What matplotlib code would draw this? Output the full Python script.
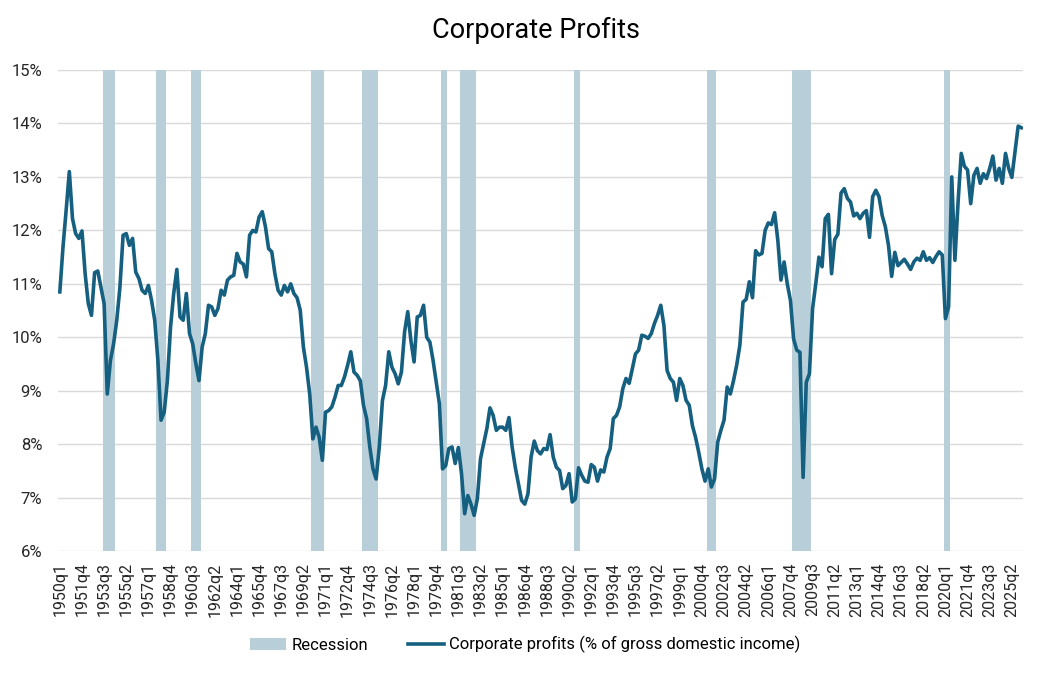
import numpy as np
import matplotlib.pyplot as plt

plt.rcParams['font.family'] = ['Roboto', 'DejaVu Sans']

# quarterly categories, 1950q1 .. 2026q1
quarters = [f'{y}q{q}' for y in range(1950, 2027) for q in range(1, 5)][:305]

profits = [
    10.85, 11.69, 12.38, 13.10, 12.22, 11.94, 11.85, 11.99, 11.19, 10.63,
    10.41, 11.21, 11.24, 10.94, 10.63, 8.94, 9.57, 9.88, 10.32, 10.94,
    11.91, 11.94, 11.72, 11.85, 11.22, 11.10, 10.88, 10.82, 10.97, 10.69,
    10.32, 9.57, 8.45, 8.60, 9.19, 10.19, 10.82, 11.27, 10.38, 10.32,
    10.82, 10.07, 9.88, 9.51, 9.19, 9.82, 10.07, 10.60, 10.57, 10.41,
    10.54, 10.88, 10.79, 11.07, 11.13, 11.16, 11.57, 11.41, 11.37, 11.13,
    11.91, 12.00, 11.97, 12.25, 12.35, 12.07, 11.66, 11.60, 11.19, 10.88,
    10.79, 10.97, 10.85, 11.00, 10.82, 10.74, 10.51, 9.82, 9.44, 8.94,
    8.10, 8.32, 8.13, 7.70, 8.60, 8.63, 8.70, 8.88, 9.10, 9.10,
    9.26, 9.48, 9.73, 9.35, 9.29, 9.19, 8.73, 8.48, 7.95, 7.54,
    7.35, 7.95, 8.82, 9.10, 9.73, 9.44, 9.32, 9.13, 9.35, 10.10,
    10.48, 9.94, 9.54, 10.38, 10.41, 10.60, 10.00, 9.91, 9.57, 9.16,
    8.76, 7.54, 7.60, 7.92, 7.95, 7.64, 7.94, 7.45, 6.70, 7.04,
    6.88, 6.67, 6.98, 7.73, 8.01, 8.29, 8.68, 8.54, 8.26, 8.32,
    8.32, 8.26, 8.50, 7.95, 7.57, 7.26, 6.95, 6.88, 7.07, 7.76,
    8.06, 7.88, 7.82, 7.92, 7.90, 8.18, 7.76, 7.57, 7.51, 7.17,
    7.23, 7.45, 6.92, 6.98, 7.56, 7.42, 7.31, 7.29, 7.62, 7.57,
    7.31, 7.52, 7.48, 7.76, 7.92, 8.48, 8.54, 8.70, 9.04, 9.23,
    9.14, 9.41, 9.69, 9.76, 10.04, 10.02, 9.98, 10.07, 10.26, 10.41,
    10.60, 10.22, 9.38, 9.23, 9.16, 8.82, 9.23, 9.10, 8.82, 8.73,
    8.35, 8.13, 7.85, 7.54, 7.31, 7.54, 7.20, 7.35, 8.04, 8.26,
    8.45, 9.07, 8.94, 9.19, 9.48, 9.85, 10.66, 10.71, 11.04, 10.74,
    11.62, 11.54, 11.57, 12.00, 12.14, 12.11, 12.33, 11.82, 11.07, 11.41,
    11.00, 10.69, 9.97, 9.76, 9.72, 7.38, 9.16, 9.32, 10.54, 11.00,
    11.50, 11.32, 12.22, 12.30, 11.19, 11.83, 11.93, 12.70, 12.78, 12.60,
    12.53, 12.27, 12.32, 12.22, 12.32, 12.37, 11.87, 12.63, 12.75, 12.63,
    12.28, 12.07, 11.72, 11.14, 11.59, 11.34, 11.40, 11.46, 11.37, 11.27,
    11.41, 11.48, 11.44, 11.60, 11.44, 11.49, 11.40, 11.51, 11.60, 11.54,
    10.35, 10.57, 13.00, 11.44, 12.53, 13.44, 13.20, 13.13, 12.50, 13.03,
    13.16, 12.88, 13.06, 12.97, 13.16, 13.39, 12.94, 13.16, 12.88, 13.44,
    13.16, 12.99, 13.47, 13.95, 13.92,
]

# recession quarters (first, last)
recessions = [
    ('1953q3', '1954q2'), ('1957q4', '1958q2'), ('1960q3', '1961q1'),
    ('1970q1', '1970q4'), ('1974q1', '1975q1'), ('1980q2', '1980q3'),
    ('1981q4', '1982q4'), ('1990q4', '1991q1'), ('2001q2', '2001q4'),
    ('2008q1', '2009q2'), ('2020q1', '2020q2'),
]

ymin, ymax = 6, 15
x = np.arange(len(quarters))
rec = np.zeros(len(quarters))
for a, b in recessions:
    rec[quarters.index(a):quarters.index(b) + 1] = 1

fig = plt.figure(figsize=(10.44, 6.73), dpi=100)
ax = fig.add_axes([0.0558, 0.181, 0.924, 0.715])

bars = ax.bar(x, rec * (ymax - ymin), bottom=ymin, width=1.0, color='#b8cfda',
              label='Recession', zorder=1)
line, = ax.plot(x, profits, color='#155f80', lw=2.6, solid_joinstyle='round',
                label='Corporate profits (% of gross domestic income)', zorder=3)

ax.set_ylim(ymin, ymax)
ax.set_xlim(-0.5, len(quarters) - 0.5)
ax.set_yticks(np.arange(6, 16))
ax.set_yticklabels([f'{v}%' for v in range(6, 16)])
ax.set_xticks(x[::7])
ax.set_xticklabels(quarters[::7], rotation=90)
ax.tick_params(axis='both', length=0, colors='#262626')
ax.tick_params(axis='x', pad=8, labelsize=11.5)
ax.tick_params(axis='y', pad=11.5, labelsize=12)
ax.grid(axis='y', color='#d9d9d9', lw=1)
ax.set_axisbelow(True)
for s in ['top', 'right', 'left', 'bottom']:
    ax.spines[s].set_visible(False)

fig.text(0.513, 0.954, 'Corporate Profits', ha='center', va='center',
         fontsize=19.5, color='black')
fig.legend([bars, line], [bars.get_label(), line.get_label()],
           loc='center', bbox_to_anchor=(0.503, 0.042), ncol=2,
           frameon=False, fontsize=12, handlelength=2.2, columnspacing=2.4,
           handletextpad=0.3)

plt.savefig('out.png', dpi=100)
